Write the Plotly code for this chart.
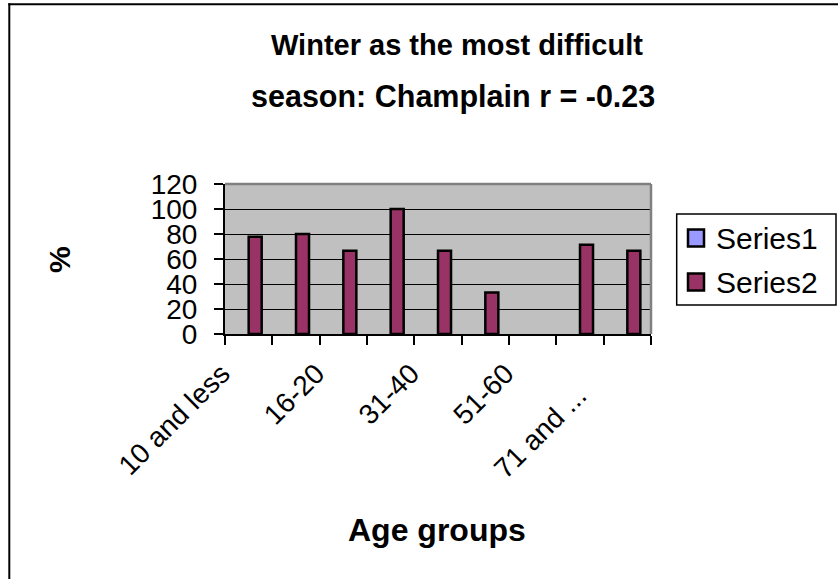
import plotly.graph_objects as go

# ---- data ----
categories = ["10 and less", "11-15", "16-20", "21-30", "31-40", "41-50", "51-60", "61-70", "71 and ..."]
series1 = [None, None, None, None, None, None, None, None, None]
series2 = [77.8, 80, 66.7, 100, 66.7, 33.3, None, 71.4, 66.7]
tick_labels = ["10 and less", "", "16-20", "", "31-40", "", "51-60", "", "71 and ..."]
y_ticks = [0, 20, 40, 60, 80, 100, 120]

title_line1 = "Winter as the most difficult"
title_line2 = "season: Champlain r = -0.23"
x_title = "Age groups"
y_title = "%"
legend_names = ["Series1", "Series2"]
colors = ["#9999FF", "#993366"]

FONT = "Liberation Sans, Arial, sans-serif"

OFF = 0  # body margin removed via post_script
W, H = 838 - OFF, 579 - OFF
L, T = 225 - OFF, 184 - OFF
PW, PH = 426, 150
R, B = W - L - PW, H - T - PH


def px(x):  # screen px -> paper
    return (x - OFF - L) / PW


def py(y):  # screen px -> paper
    return (H - B - (y - OFF)) / PH


# the last label is laid out longer in the original (truncated text); pad it with nbsp
NBSP = "\u00a0"
ticktext = [t + NBSP * 4 if t.endswith("...") else t for t in tick_labels]

fig = go.Figure()
fig.add_trace(go.Bar(x=categories, y=series1, name=legend_names[0],
                     marker=dict(color=colors[0], line=dict(color="black", width=2.5)),
                     showlegend=False))
fig.add_trace(go.Bar(x=categories, y=series2, name=legend_names[1],
                     marker=dict(color=colors[1], line=dict(color="black", width=2.5)),
                     showlegend=False))

shapes = []
# plot area border (gray) top and right
shapes.append(dict(type="line", xref="paper", yref="paper", x0=0, x1=1, y0=1, y1=1,
                   line=dict(color="#808080", width=2.5), layer="above"))
shapes.append(dict(type="line", xref="paper", yref="paper", x0=1, x1=1, y0=0, y1=1,
                   line=dict(color="#808080", width=2.5), layer="above"))
# outer chart frame (top and left visible)
shapes.append(dict(type="line", xref="paper", yref="paper", x0=px(8.3), x1=px(850), y0=py(4.3), y1=py(4.3),
                   line=dict(color="black", width=2)))
shapes.append(dict(type="line", xref="paper", yref="paper", x0=px(9.3), x1=px(9.3), y0=py(3.3), y1=py(600),
                   line=dict(color="black", width=2)))
# legend box
shapes.append(dict(type="rect", xref="paper", yref="paper", x0=px(676.7), x1=px(836), y0=py(214), y1=py(305),
                   line=dict(color="black", width=1.5), fillcolor="white"))
annotations = []
rows = [238, 282]
for name, col, yc in zip(legend_names, colors, rows):
    shapes.append(dict(type="rect", xref="paper", yref="paper", x0=px(688), x1=px(704),
                       y0=py(yc - 8.5), y1=py(yc + 8.5),
                       line=dict(color="black", width=2.5), fillcolor=col))
    annotations.append(dict(xref="paper", yref="paper", x=px(714), y=py(yc), text=name,
                            showarrow=False, xanchor="left", yanchor="middle",
                            font=dict(family=FONT, size=30, color="black")))

# titles
annotations.append(dict(xref="paper", yref="paper", x=px(457), y=py(45), text="<b>%s</b>" % title_line1,
                        showarrow=False, xanchor="center", yanchor="middle",
                        font=dict(family=FONT, size=29, color="black")))
annotations.append(dict(xref="paper", yref="paper", x=px(453), y=py(96), text="<b>%s</b>" % title_line2,
                        showarrow=False, xanchor="center", yanchor="middle",
                        font=dict(family=FONT, size=30.5, color="black")))
annotations.append(dict(xref="paper", yref="paper", x=px(436.5), y=py(530), text="<b>%s</b>" % x_title,
                        showarrow=False, xanchor="center", yanchor="middle",
                        font=dict(family=FONT, size=32, color="black")))
annotations.append(dict(xref="paper", yref="paper", x=px(59), y=py(260), text="<b>%s</b>" % y_title,
                        showarrow=False, xanchor="center", yanchor="middle", textangle=-90,
                        font=dict(family=FONT, size=30, color="black")))

fig.update_layout(
    width=W, height=H,
    margin=dict(l=L, r=R, t=T, b=B, pad=0),
    paper_bgcolor="white",
    plot_bgcolor="#C0C0C0",
    barmode="group",
    bargap=0.45,
    bargroupgap=0,
    showlegend=False,
    shapes=shapes,
    annotations=annotations,
    font=dict(family=FONT, color="black"),
)
fig.update_xaxes(
    type="category",
    tickmode="array", tickvals=categories, ticktext=ticktext,
    tickson="boundaries", ticks="outside", ticklen=9, tickwidth=1.5, tickcolor="black",
    tickangle=-45, tickfont=dict(family=FONT, size=28, color="black"),
    ticklabelstandoff=10, ticklabelshift=-27,
    showline=True, linecolor="black", linewidth=2,
    showgrid=False, zeroline=False,
)
fig.update_yaxes(
    range=[0, 120], tickmode="array", tickvals=y_ticks,
    ticks="outside", ticklen=9, tickwidth=1.5, tickcolor="black",
    tickfont=dict(family=FONT, size=28, color="black"),
    ticklabelstandoff=11,
    showline=True, linecolor="black", linewidth=2,
    showgrid=True, gridcolor="black", gridwidth=1,
    zeroline=False,
)

fig.write_html("out.html", config={"displayModeBar": False},
               post_script="document.body.style.margin='0px';")
